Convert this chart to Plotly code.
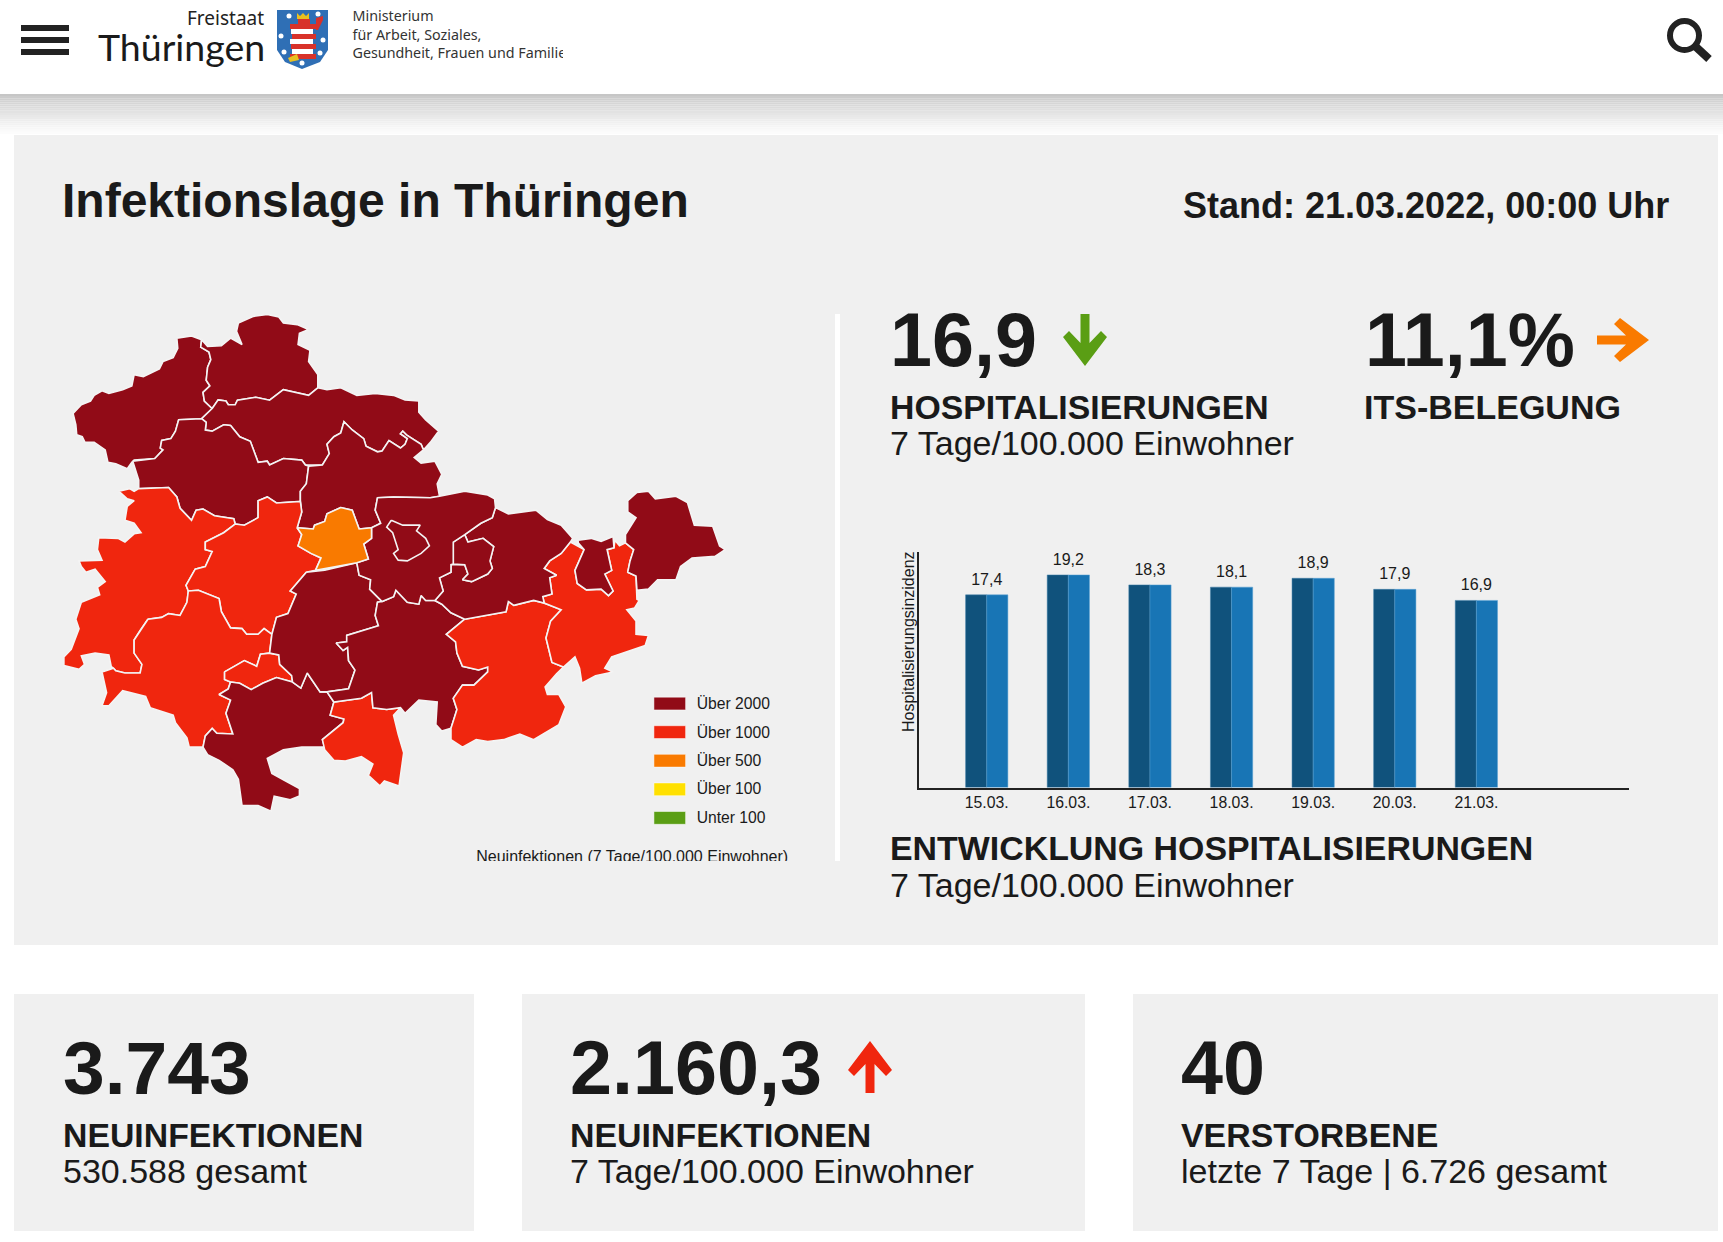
import math
import plotly.graph_objects as go

# bar chart
days = ["15.03.", "16.03.", "17.03.", "18.03.", "19.03.", "20.03.", "21.03."]
hosp = [17.4, 19.2, 18.3, 18.1, 18.9, 17.9, 16.9]
hosp_labels = ["17,4", "19,2", "18,3", "18,1", "18,9", "17,9", "16,9"]

# map colours / legend
DARK = "#910b17"
RED = "#f0260e"
ORANGE = "#f97a00"
legend_names = ["Über 2000", "Über 1000", "Über 500", "Über 100", "Unter 100"]
legend_colors = [DARK, RED, ORANGE, "#ffe000", "#5a9e14"]

# district outlines (map units)
nordwest = [(298,128),(330,122),(352,132),(350,152),(368,165),(372,185),(365,205),(362,240),(370,255),(355,272),(358,295),(375,315),(352,342),(302,345),(295,375),(285,395),(265,400),(262,420),(268,425),(250,448),(205,452),(200,458),(190,475),(165,462),(148,458),(142,425),(118,405),(98,405),(92,390),(80,385),(78,358),(72,328),(90,305),(110,295),(118,280),(135,268),(150,275),(180,265),(200,255),(205,225),(225,230),(260,210),(268,190),(290,180),(300,155)]
nordhausen = [(352,132),(365,150),(395,148),(415,128),(440,145),(428,110),(432,88),(465,70),(495,65),(520,72),(530,88),(560,92),(585,105),(565,115),(562,145),(588,160),(585,190),(605,225),(605,260),(585,280),(555,272),(530,265),(500,293),(470,285),(430,293),(425,305),(410,305),(405,295),(388,292),(375,315),(358,295),(355,272),(370,255),(362,240),(365,205),(372,185),(368,165),(350,152)]
kyffhaeuser = [(375,315),(388,292),(405,295),(410,305),(425,305),(430,293),(470,285),(500,293),(530,265),(555,272),(585,280),(605,260),(625,265),(655,260),(690,280),(730,275),(770,280),(795,292),(825,295),(825,325),(840,345),(868,375),(850,405),(835,425),(830,410),(798,385),(790,375),(785,382),(800,395),(795,410),(785,420),(760,400),(745,428),(735,430),(710,415),(705,395),(680,372),(662,350),(655,380),(640,390),(625,410),(630,435),(615,465),(578,465),(570,452),(530,448),(500,465),(495,455),(475,458),(458,402),(435,390),(415,360),(400,358),(375,375),(360,372),(362,352),(352,342)]
unstrut = [(202,455),(250,448),(268,425),(262,420),(265,400),(285,395),(295,375),(302,345),(352,342),(362,352),(360,372),(375,375),(400,358),(415,360),(435,390),(458,402),(475,458),(495,455),(500,465),(530,448),(570,452),(578,465),(585,468),(580,515),(567,535),(567,562),(515,566),(495,550),(475,560),(475,605),(445,625),(425,622),(422,608),(380,600),(355,582),(340,585),(330,612),(305,580),(298,550),(280,525),(215,528),(215,505)]
soemmerda = [(585,468),(615,465),(630,435),(625,410),(640,390),(655,380),(662,350),(680,372),(705,395),(710,415),(735,430),(745,428),(760,400),(785,420),(795,410),(800,395),(785,382),(790,375),(798,385),(830,410),(835,425),(815,445),(830,460),(860,455),(875,490),(865,515),(870,548),(850,552),(770,550),(735,552),(730,585),(742,620),(722,632),(695,635),(680,585),(655,578),(625,595),(620,615),(598,625),(595,635),(560,632),(570,590),(567,562),(567,535),(580,515)]
wartburg = [(172,535),(195,528),(205,535),(215,528),(280,525),(298,550),(305,580),(330,612),(340,585),(355,582),(380,600),(422,608),(425,622),(400,645),(360,670),(360,690),(375,695),(360,735),(338,742),(318,785),(323,800),(320,830),(305,865),(280,860),(265,870),(235,875),(218,905),(205,930),(205,965),(222,995),(218,1018),(185,1018),(165,1012),(155,1000),(150,970),(120,965),(90,972),(97,995),(85,1008),(52,998),(52,975),(68,955),(85,900),(78,875),(90,830),(130,810),(125,790),(142,775),(120,742),(100,750),(90,735),(85,720),(135,718),(125,690),(128,658),(170,660),(185,670),(205,648),(220,645),(205,620),(185,612),(190,575),(205,560),(190,555)]
gotha = [(425,622),(445,625),(475,605),(475,560),(495,550),(515,566),(567,562),(570,590),(560,632),(570,650),(562,680),(590,700),(612,712),(600,745),(580,750),(545,800),(558,808),(540,860),(515,870),(505,915),(488,900),(475,915),(450,915),(440,900),(415,898),(395,855),(390,820),(365,808),(345,798),(323,800),(318,785),(338,742),(360,735),(375,695),(360,690),(360,670),(400,645)]
meiningen = [(235,875),(265,870),(280,860),(305,865),(320,830),(323,800),(345,798),(365,808),(390,820),(395,855),(415,898),(440,900),(450,915),(475,915),(488,900),(505,915),(500,965),(480,968),(472,1000),(445,985),(402,1015),(402,1035),(415,1042),(410,1060),(390,1075),(415,1090),(405,1125),(420,1180),(385,1178),(375,1165),(360,1185),(355,1215),(325,1215),(320,1190),(295,1150),(290,1130),(240,1110),(230,1080),(180,1065),(150,1105),(135,1105),(145,1070),(135,1015),(160,1005),(165,1012),(185,1018),(218,1018),(222,995),(205,965),(205,930),(218,905)]
suhl = [(402,1015),(445,985),(472,1000),(480,968),(500,965),(520,970),(522,995),(548,1025),(550,1042),(515,1030),(485,1045),(460,1062),(435,1045),(415,1042),(402,1035)]
hildburghausen = [(415,1042),(435,1045),(460,1062),(485,1045),(515,1030),(550,1042),(568,1058),(582,1018),(610,1068),(625,1068),(640,1095),(632,1130),(662,1140),(660,1150),(615,1195),(620,1215),(570,1215),(530,1222),(495,1245),(505,1285),(535,1305),(565,1325),(565,1345),(545,1355),(510,1345),(503,1385),(475,1370),(440,1370),(432,1300),(420,1275),(390,1250),(365,1235),(355,1215),(360,1185),(375,1165),(385,1178),(420,1180),(405,1125),(415,1090),(390,1075),(410,1060)]
sonneberg = [(640,1095),(680,1088),(700,1085),(722,1070),(725,1110),(755,1115),(785,1110),(770,1130),(780,1180),(792,1230),(782,1318),(750,1305),(740,1318),(715,1290),(725,1260),(700,1240),(665,1252),(640,1250),(620,1222),(615,1195),(660,1150),(662,1140),(632,1130)]
ilmkreis = [(580,750),(620,745),(690,725),(695,758),(720,770),(718,795),(745,828),(735,830),(730,865),(737,892),(668,918),(668,935),(645,938),(660,958),(670,950),(672,985),(686,1010),(672,1060),(625,1068),(610,1068),(582,1018),(568,1058),(550,1042),(548,1025),(522,995),(520,970),(500,965),(505,915),(515,870),(540,860),(558,808),(545,800)]
saalfeld = [(745,828),(770,815),(775,798),(800,830),(825,835),(830,812),(840,825),(860,825),(875,835),(895,858),(925,875),(885,915),(905,935),(908,965),(920,1000),(955,1010),(975,1002),(975,1015),(945,1050),(920,1050),(900,1085),(908,1115),(895,1165),(875,1172),(862,1155),(865,1095),(825,1090),(795,1125),(785,1110),(755,1115),(725,1110),(722,1070),(700,1085),(680,1088),(640,1095),(625,1068),(672,1060),(686,1010),(672,985),(670,950),(660,958),(645,938),(668,935),(668,918),(737,892),(730,865),(735,830)]
saale_orla = [(925,875),(1015,855),(1020,828),(1032,838),(1075,825),(1098,832),(1135,850),(1112,880),(1102,925),(1115,990),(1140,1002),(1125,1020),(1100,1055),(1105,1075),(1130,1075),(1145,1108),(1130,1155),(1075,1195),(1045,1180),(1010,1195),(975,1200),(950,1195),(920,1215),(895,1195),(895,1165),(908,1115),(900,1085),(920,1050),(945,1050),(975,1015),(975,1002),(955,1010),(920,1000),(908,965),(905,935),(885,915)]
greiz = [(1155,670),(1185,690),(1165,745),(1170,780),(1190,797),(1222,795),(1238,812),(1248,800),(1230,755),(1245,745),(1235,690),(1250,685),(1252,665),(1262,680),(1275,672),(1293,690),(1285,720),(1280,750),(1298,760),(1300,822),(1305,825),(1295,845),(1278,850),(1298,880),(1298,915),(1325,918),(1318,945),(1270,965),(1245,975),(1230,1005),(1248,1015),(1210,1025),(1180,1045),(1175,1005),(1165,975),(1140,1002),(1115,990),(1102,925),(1112,880),(1135,850),(1098,832),(1095,815),(1115,808),(1110,765),(1125,758),(1098,740),(1110,720),(1135,700)]
gera = [(1172,665),(1200,660),(1222,668),(1248,655),(1250,685),(1235,690),(1245,745),(1230,755),(1248,800),(1238,812),(1222,795),(1190,797),(1170,780),(1165,745),(1185,690),(1172,672)]
altenburg = [(1280,750),(1285,720),(1293,690),(1275,672),(1275,650),(1298,605),(1280,590),(1280,560),(1300,538),(1325,535),(1340,555),(1385,548),(1410,565),(1425,625),(1465,628),(1480,680),(1492,690),(1470,708),(1420,712),(1395,735),(1385,770),(1345,770),(1325,795),(1300,798),(1298,760)]
holzland = [(925,650),(960,620),(985,605),(992,578),(1020,595),(1080,585),(1105,610),(1135,625),(1160,660),(1155,670),(1135,700),(1110,720),(1098,740),(1125,758),(1110,765),(1115,808),(1095,815),(1098,832),(1075,825),(1032,838),(1020,828),(1015,855),(925,875),(895,858),(875,835),(860,825),(878,800),(870,765),(895,750),(895,730),(925,730),(932,755),(920,770),(940,775),(975,755),(985,740),(980,720),(988,682),(965,660),(932,670)]
jena = [(900,670),(925,650),(932,670),(965,660),(988,682),(980,720),(985,740),(975,755),(940,775),(920,770),(932,755),(925,730),(900,728)]
weimarer_land = [(735,552),(770,550),(850,552),(870,548),(925,535),(975,545),(990,555),(992,578),(985,605),(960,620),(925,650),(900,670),(900,728),(895,730),(895,750),(870,765),(878,800),(860,825),(840,825),(830,812),(825,835),(800,830),(775,798),(770,815),(745,828),(718,795),(720,770),(695,758),(690,725),(715,715),(705,675),(722,660),(722,632),(742,620),(730,585)]
weimar = [(765,612),(790,625),(828,625),(820,640),(840,660),(848,680),(830,700),(800,720),(780,718),(770,700),(780,690),(768,645),(755,630)]
erfurt = [(560,632),(595,635),(598,625),(620,615),(625,595),(655,578),(680,585),(695,635),(722,632),(722,660),(705,675),(715,715),(690,725),(620,740),(600,745),(612,712),(590,700),(562,680),(570,650)]

districts = [
    (nordwest, DARK), (nordhausen, DARK), (kyffhaeuser, DARK), (unstrut, DARK),
    (soemmerda, DARK), (wartburg, RED), (gotha, RED), (meiningen, RED), (suhl, RED),
    (hildburghausen, DARK), (sonneberg, RED), (ilmkreis, DARK), (saalfeld, DARK),
    (saale_orla, RED), (greiz, RED), (gera, DARK), (altenburg, DARK), (holzland, DARK),
    (jena, DARK), (weimarer_land, DARK), (weimar, DARK), (erfurt, ORANGE),
]

W, H = 1723, 1242
PANEL = "#f0f0f0"
INK = "#1a1a1a"
SANS = "Liberation Sans"

fig = go.Figure()


def hidden(**kw):
    return dict(visible=False, fixedrange=True, **kw)


def dom_x(a, b):
    return [a / W, b / W]


def dom_y(top, bottom):
    return [1 - bottom / H, 1 - top / H]


shapes = []


def rect(x0, y0, x1, y1, color, **kw):
    shapes.append(dict(type="rect", x0=x0, y0=y0, x1=x1, y1=y1, xref="x", yref="y",
                       fillcolor=color, line_width=0, layer="below", **kw))


def poly(points, color):
    p = "M " + " L ".join(f"{x:.1f},{y:.1f}" for x, y in points) + " Z"
    shapes.append(dict(type="path", path=p, xref="x", yref="y", fillcolor=color,
                       line_width=0, layer="below"))


def arrow(cx, cy, angle, color):
    # arrow pointing along +x, rotated by angle (degrees)
    pts = [(-26, -4.5), (3, -4.5), (-9, -16), (-3, -22), (26, 0), (-3, 22), (-9, 16), (3, 4.5), (-26, 4.5)]
    a = math.radians(angle)
    poly([(cx + x * math.cos(a) - y * math.sin(a), cy + x * math.sin(a) + y * math.cos(a)) for x, y in pts], color)


# header and panels
for i in range(20):
    g = 198 + int(57 * (i / 19) ** 0.8)
    rect(0, 94 + i * 2.1, W, 94 + (i + 1) * 2.1, f"rgb({g},{g},{g})")
rect(14, 135, 1718, 945, PANEL)
rect(14, 994, 474, 1231, PANEL)
rect(522, 994, 1085, 1231, PANEL)
rect(1133, 994, 1718, 1231, PANEL)
rect(835, 314, 840, 861, "#ffffff")

# hamburger
for y in (25, 37, 49):
    rect(21, y, 69, y + 6, "#222222")

# search icon
shapes.append(dict(type="circle", x0=1670, y0=21, x1=1699, y1=50, xref="x", yref="y",
                   line=dict(color="#222222", width=6), fillcolor="rgba(0,0,0,0)"))
shapes.append(dict(type="line", x0=1695, y0=46, x1=1709, y1=59, xref="x", yref="y",
                   line=dict(color="#222222", width=8)))

# coat of arms
poly([(277, 10), (328, 10), (328, 50), (320, 62), (302, 69), (285, 62), (277, 50)], "#2f6fb5")
for i, y in enumerate(range(24, 58, 5)):
    rect(290 + (i % 3), y, 316 - (i % 2) * 3, y + 5, "#d8322a" if i % 2 == 0 else "#ffffff")
poly([(297, 13), (300, 16), (303, 13), (306, 16), (309, 13), (309, 19), (297, 19)], "#e8c020")
poly([(298, 19), (310, 19), (310, 25), (298, 25)], "#d8322a")
poly([(316, 18), (323, 16), (323, 20), (318, 30), (316, 30)], "#d8322a")
poly([(288, 58), (297, 54), (299, 60), (290, 62)], "#e8c020")
for cx, cy in [(289, 16), (318, 14), (281, 36), (323, 40), (284, 52), (320, 53), (302, 63)]:
    shapes.append(dict(type="circle", x0=cx - 2.5, y0=cy - 2.5, x1=cx + 2.5, y1=cy + 2.5,
                       xref="x", yref="y", fillcolor="#ffffff", line_width=0))

# arrows
arrow(1085, 340, 90, "#5a9e14")
arrow(1623, 340, 0, "#f97a00")
arrow(870, 1067, -90, RED)

# map
for pts, col in districts:
    fig.add_trace(go.Scatter(x=[p[0] for p in pts] + [pts[0][0]], y=[p[1] for p in pts] + [pts[0][1]],
                             mode="lines", fill="toself", fillcolor=col,
                             line=dict(color="#f4f4f4", width=1.6),
                             xaxis="x2", yaxis="y2", showlegend=False, hoverinfo="skip"))

# map legend
for i, (name, col) in enumerate(zip(legend_names, legend_colors)):
    shapes.append(dict(type="rect", x0=1337, x1=1406, y0=1082 + i * 76, y1=1116 + i * 76, xref="x2", yref="y2",
                       fillcolor=col, line=dict(color="rgba(255,255,255,0.5)", width=1), layer="above"))
fig.add_trace(go.Scatter(x=[1430] * 5, y=[1104 + i * 75.3 for i in range(5)], text=legend_names,
                         mode="text", textposition="middle right",
                         textfont=dict(family=SANS, size=15.7, color=INK),
                         xaxis="x2", yaxis="y2", showlegend=False, hoverinfo="skip"))
# clipped by the axes at the panel edge, as in the screenshot
fig.add_trace(go.Scatter(x=[950], y=[1510], text=["Neuinfektionen (7 Tage/100.000 Einwohner)"],
                         mode="text", textposition="middle right",
                         textfont=dict(family=SANS, size=16, color=INK),
                         xaxis="x2", yaxis="y2", showlegend=False, hoverinfo="skip", cliponaxis=True))

# bars
fig.add_trace(go.Bar(x=days, y=hosp, marker=dict(color="#10527c", line=dict(color="#3f7fa8", width=0.5)),
                     xaxis="x3", yaxis="y3", showlegend=False))
fig.add_trace(go.Bar(x=days, y=hosp, marker=dict(color="#1875b5", line=dict(color="#5aa2d4", width=0.5)),
                     xaxis="x3", yaxis="y3", showlegend=False))
# invisible marker only pushes the value label up off the bar
fig.add_trace(go.Scatter(x=days, y=hosp, text=hosp_labels, mode="text+markers", textposition="top center",
                         marker=dict(size=8, opacity=0),
                         textfont=dict(family=SANS, size=16, color=INK), cliponaxis=False,
                         xaxis="x3", yaxis="y3", showlegend=False))

# ministry text, cut off on the right like the header image
fig.add_trace(go.Scatter(x=[352.5, 352.5, 352.5], y=[17.5, 36, 54],
                         text=["Ministerium", "für Arbeit, Soziales,", "Gesundheit, Frauen und Familie"],
                         mode="text", textposition="middle right",
                         textfont=dict(family="Noto Sans", size=14.3, color="#333333"),
                         xaxis="x4", yaxis="y4", showlegend=False, cliponaxis=True))

annotations = []


def txt(x, y, s, size, bold=False, anchor="left", family=SANS, color=INK, angle=0):
    if bold:
        s = f"<b>{s}</b>"
    annotations.append(dict(x=x, y=y, xref="x", yref="y", text=s, showarrow=False, xanchor=anchor,
                            yanchor="middle", textangle=angle, borderpad=0,
                            font=dict(family=family, size=size, color=color)))


txt(265, 18, "Freistaat", 19, anchor="right", family="Noto Sans", color="#222222")
txt(266, 46, "Thüringen", 37.5, anchor="right", family="Lato", color="#1a1a1a")
txt(61, 200, "Infektionslage in Thüringen", 48, True)
txt(1670, 205, "Stand: 21.03.2022, 00:00 Uhr", 36, True, anchor="right")
txt(889, 340, "16,9", 75.5, True)
txt(1364, 340, "11,1%", 75.5, True)
txt(889, 407, "HOSPITALISIERUNGEN", 33.8, True)
txt(889, 442.5, "7 Tage/100.000 Einwohner", 34)
txt(1363, 407, "ITS-BELEGUNG", 34, True)
txt(889, 848, "ENTWICKLUNG HOSPITALISIERUNGEN", 33.9, True)
txt(889, 884.5, "7 Tage/100.000 Einwohner", 34)
txt(908, 642, "Hospitalisierungsinzidenz", 16, anchor="center", angle=-90)
txt(62, 1067.5, "3.743", 75, True)
txt(61.5, 1135, "NEUINFEKTIONEN", 33.8, True)
txt(61.5, 1171, "530.588 gesamt", 34)
txt(569, 1067.5, "2.160,3", 75.5, True)
txt(569, 1135, "NEUINFEKTIONEN", 33.9, True)
txt(569, 1171, "7 Tage/100.000 Einwohner", 34)
txt(1180, 1067.5, "40", 75.5, True)
txt(1180, 1135, "VERSTORBENE", 33.9, True)
txt(1180, 1171, "letzte 7 Tage | 6.726 gesamt", 34)

fig.update_layout(
    width=W, height=H, margin=dict(l=0, r=0, t=0, b=0), autosize=False,
    paper_bgcolor="#ffffff", plot_bgcolor="rgba(0,0,0,0)",
    barmode="group", bargap=0.482, bargroupgap=0, showlegend=False,
    shapes=shapes, annotations=annotations,
    # whole page in pixels
    xaxis=hidden(domain=[0, 1], range=[0, W]),
    yaxis=hidden(domain=[0, 1], range=[H, 0]),
    # map
    xaxis2=hidden(domain=dom_x(40, 800), range=[0, 760 * 1568 / 720], anchor="y2"),
    yaxis2=hidden(domain=dom_y(290, 861), range=[571 * 1568 / 590, 0], anchor="x2"),
    # bars
    xaxis3=dict(domain=dom_x(919, 1629), range=[-0.83, 7.87], anchor="y3", type="category",
                categoryorder="array", categoryarray=days, showline=True, linecolor="#222222", linewidth=2,
                ticks="", showgrid=False, fixedrange=True,
                tickfont=dict(family=SANS, size=15.8, color=INK)),
    yaxis3=dict(domain=dom_y(551.7, 787.5), range=[0, 21.3], anchor="x3", showline=True, linecolor="#222222",
                linewidth=2, showticklabels=False, ticks="", showgrid=False, zeroline=False, fixedrange=True),
    # header text
    xaxis4=hidden(domain=dom_x(0, 563), range=[0, 563], anchor="y4"),
    yaxis4=hidden(domain=dom_y(0, 94), range=[94, 0], anchor="x4"),
)

fig.write_html("out.html", config=dict(displayModeBar=False),
               post_script="document.body.style.margin='0';document.body.style.overflow='hidden';")
